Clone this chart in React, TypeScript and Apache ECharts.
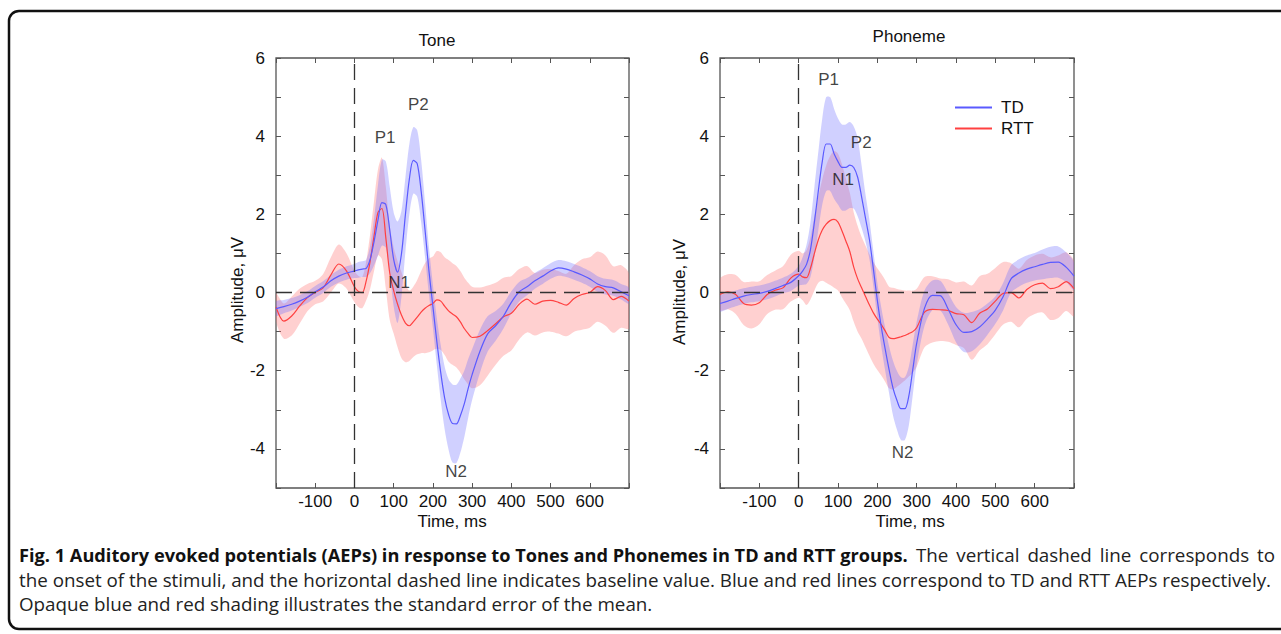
import React, { useEffect, useRef } from "react";
import * as echarts from "echarts";

// time grid (ms)
const T = [
  -200, -180, -160, -140, -120, -100, -80, -60, -40, -20, 0,
  10, 20, 30, 40, 50, 60, 70, 80, 90, 100,
  110, 120, 130, 140, 150, 160, 170, 180, 190, 200,
  210, 220, 230, 240, 250, 260, 270, 280, 290, 300,
  320, 340, 360, 380, 400, 420, 440, 460, 480, 500,
  520, 540, 560, 580, 600, 620, 640, 660, 680, 700,
];

// Tone — TD
const toneTdMean = [
  -0.41, -0.36, -0.3, -0.22, -0.12, 0.02, 0.14, 0.3, 0.42, 0.5, 0.55,
  0.58, 0.6, 0.62, 0.85, 1.3, 1.85, 2.3, 2.25, 1.6, 0.85,
  0.52, 1.0, 2.0, 2.9, 3.38, 3.3, 2.6, 1.6, 0.55, -0.35,
  -1.25, -2.05, -2.7, -3.12, -3.35, -3.36, -3.15, -2.85, -2.45, -2.1,
  -1.5, -1.05, -0.85, -0.6, -0.25, 0.02, 0.15, 0.3, 0.42, 0.55,
  0.63, 0.6, 0.53, 0.45, 0.35, 0.22, 0.15, 0.12, 0.02, -0.08,
];
const toneTdSem = [
  0.18, 0.17, 0.16, 0.15, 0.15, 0.15, 0.15, 0.15, 0.16, 0.17, 0.18,
  0.2, 0.2, 0.22, 0.35, 0.6, 0.9, 1.1, 1.1, 1.1, 1.2,
  1.3, 1.1, 0.95, 0.9, 0.85, 0.85, 0.8, 0.7, 0.6, 0.55,
  0.6, 0.7, 0.8, 0.9, 1.0, 1.0, 0.95, 0.85, 0.75, 0.65,
  0.55, 0.45, 0.38, 0.32, 0.28, 0.25, 0.22, 0.2, 0.2, 0.2,
  0.2, 0.2, 0.2, 0.2, 0.2, 0.2, 0.2, 0.2, 0.2, 0.2,
];
// Tone — RTT
const toneRttMean = [
  -0.37, -0.73, -0.6, -0.35, -0.13, 0.0, 0.12, 0.45, 0.73, 0.55, 0.15,
  0.03, 0.0, 0.3, 0.8, 1.45, 2.05, 2.15, 1.4, 0.5, 0.05,
  -0.3, -0.58, -0.78, -0.85, -0.75, -0.63, -0.5, -0.4, -0.33, -0.28,
  -0.19, -0.22, -0.35, -0.47, -0.55, -0.62, -0.75, -0.92, -1.05, -1.15,
  -1.12, -0.97, -0.8, -0.62, -0.53, -0.3, -0.17, -0.3, -0.22, -0.2,
  -0.25, -0.32, -0.15, -0.05, 0.0, 0.15, 0.05, -0.18, -0.1, -0.22,
];
const toneRttSem = [
  0.35, 0.45, 0.5, 0.45, 0.35, 0.3, 0.35, 0.45, 0.5, 0.45, 0.4,
  0.4, 0.4, 0.5, 0.7, 0.9, 1.1, 1.3, 1.3, 1.2, 1.1,
  1.1, 1.1, 1.0, 0.9, 0.9, 0.95, 1.05, 1.15, 1.2, 1.2,
  1.25, 1.25, 1.25, 1.3, 1.3, 1.3, 1.3, 1.3, 1.3, 1.3,
  1.25, 1.15, 1.05, 1.0, 0.95, 0.9, 0.85, 0.8, 0.8, 0.8,
  0.8, 0.8, 0.85, 0.9, 0.9, 0.9, 0.9, 0.85, 0.8, 0.7,
];
// Phoneme — TD
const phonTdMean = [
  -0.28, -0.22, -0.15, -0.09, -0.05, -0.02, 0.03, 0.1, 0.18, 0.26, 0.43,
  0.55, 0.72, 1.1, 1.8, 2.6, 3.35, 3.8, 3.8, 3.55, 3.35,
  3.2, 3.2, 3.26, 3.2, 2.95, 2.45, 1.9, 1.35, 0.6, -0.2,
  -0.88, -1.45, -1.98, -2.45, -2.76, -2.97, -2.97, -2.65, -1.98, -1.3,
  -0.4, -0.07, -0.08, -0.42, -0.82, -1.02, -1.0, -0.88, -0.68, -0.45,
  -0.1, 0.35, 0.5, 0.6, 0.66, 0.72, 0.77, 0.78, 0.65, 0.42,
];
const phonTdSem = [
  0.2, 0.2, 0.2, 0.2, 0.2, 0.2, 0.2, 0.2, 0.2, 0.22, 0.25,
  0.35, 0.5, 0.7, 0.9, 1.0, 1.1, 1.2, 1.2, 1.15, 1.1,
  1.1, 1.1, 1.1, 1.05, 1.0, 0.8, 0.6, 0.5, 0.45, 0.45,
  0.5, 0.55, 0.6, 0.7, 0.75, 0.8, 0.8, 0.75, 0.65, 0.55,
  0.45, 0.38, 0.38, 0.4, 0.45, 0.5, 0.5, 0.45, 0.4, 0.35,
  0.35, 0.35, 0.35, 0.35, 0.35, 0.38, 0.4, 0.4, 0.38, 0.35,
];
// Phoneme — RTT
const phonRttMean = [
  -0.05, 0.02, -0.05, -0.28, -0.32, -0.26, -0.05, 0.06, 0.12, 0.37, 0.47,
  0.4, 0.38, 0.62, 1.0, 1.35, 1.6, 1.75, 1.84, 1.87, 1.8,
  1.58, 1.32, 1.05, 0.65, 0.35, 0.12, -0.1, -0.32, -0.52, -0.68,
  -0.82, -0.98, -1.15, -1.18, -1.16, -1.13, -1.1, -1.05, -1.0, -0.9,
  -0.5, -0.43, -0.44, -0.46, -0.54, -0.57, -0.77, -0.53, -0.42, -0.22,
  -0.02, 0.0, -0.14, 0.08, 0.2, 0.24, 0.1, 0.15, 0.28, 0.1,
];
const phonRttSem = [
  0.4, 0.45, 0.5, 0.55, 0.6, 0.55, 0.5, 0.5, 0.55, 0.6, 0.6,
  0.6, 0.7, 0.8, 0.95, 1.1, 1.3, 1.5, 1.65, 1.75, 1.75,
  1.7, 1.6, 1.5, 1.4, 1.35, 1.3, 1.3, 1.3, 1.3, 1.3,
  1.3, 1.3, 1.3, 1.3, 1.25, 1.2, 1.15, 1.1, 1.05, 1.0,
  0.9, 0.85, 0.8, 0.8, 0.8, 0.85, 0.95, 0.95, 0.9, 0.85,
  0.8, 0.75, 0.75, 0.75, 0.75, 0.75, 0.8, 0.8, 0.75, 0.7,
];

// peak annotations [name, time ms, amplitude µV]
const toneLabels: [string, number, number][] = [
  ["P1", 78, 3.97],
  ["P2", 163, 4.8],
  ["N1", 114, 0.26],
  ["N2", 259, -4.58],
];
const phonLabels: [string, number, number][] = [
  ["P1", 76, 5.45],
  ["P2", 159, 3.84],
  ["N1", 113, 2.88],
  ["N2", 264, -4.08],
];

const xTicksHidden = [-200, 700];
const panelTitles = ["Tone", "Phoneme"];
const groups = ["TD", "RTT"];

const captionBold =
  "Fig. 1 Auditory evoked potentials (AEPs) in response to Tones and Phonemes in TD and RTT groups.";
const captionLine1Rest = "The vertical dashed line corresponds to";
const captionLine2 =
  "the onset of the stimuli, and the horizontal dashed line indicates baseline value. Blue and red lines correspond to TD and RTT AEPs respectively.";
const captionLine3 = "Opaque blue and red shading illustrates the standard error of the mean.";

const BLUE = "#5a5aff";
const RED = "#ff4040";
const BLUE_BAND = "rgba(110,110,255,0.32)";
const RED_BAND = "rgba(255,110,110,0.32)";
const FONT = "Liberation Sans, Arial, sans-serif";
const CAP_FAMILY = "'Open Sans', sans-serif";

function measure(text: string, font: string) {
  const c = document.createElement("canvas").getContext("2d");
  if (!c) return text.length * 8;
  c.font = font;
  return c.measureText(text).width;
}

function band(name: string, xi: number, yi: number, mean: number[], sem: number[], color: string) {
  const lo = mean.map((m, i) => m - sem[i]);
  const hi = mean.map((m, i) => m + sem[i]);
  return {
    type: "custom",
    name,
    xAxisIndex: xi,
    yAxisIndex: yi,
    silent: true,
    clip: true,
    z: 1,
    data: T.map((t, i) => [t, lo[i], hi[i]]),
    encode: { x: 0, y: [1, 2] },
    renderItem: (params: any, api: any) => {
      if (params.dataIndex !== 0) return null;
      const up = T.map((t, i) => api.coord([t, hi[i]]));
      const dn = T.map((t, i) => api.coord([t, lo[i]])).reverse();
      return {
        type: "polygon",
        shape: { points: up.concat(dn), smooth: 0.3 },
        style: { fill: color },
        silent: true,
      };
    },
  };
}

function line(name: string, xi: number, yi: number, mean: number[], color: string, extra: any = {}) {
  return {
    type: "line",
    name,
    xAxisIndex: xi,
    yAxisIndex: yi,
    data: T.map((t, i) => [t, mean[i]]),
    smooth: 0.3,
    symbol: "none",
    clip: true,
    z: 3,
    lineStyle: { color, width: 1.2 },
    itemStyle: { color },
    silent: true,
    ...extra,
  };
}

function labels(xi: number, yi: number, list: [string, number, number][]) {
  return {
    type: "scatter",
    xAxisIndex: xi,
    yAxisIndex: yi,
    symbolSize: 1,
    itemStyle: { color: "rgba(0,0,0,0)" },
    silent: true,
    z: 6,
    data: list.map((l) => ({ name: l[0], value: [l[1], l[2]] })),
    label: {
      show: true,
      position: "inside",
      formatter: "{b}",
      fontSize: 17,
      fontFamily: FONT,
      color: "#111",
    },
  };
}

const baseline = {
  silent: true,
  symbol: ["none", "none"],
  label: { show: false },
  lineStyle: { color: "#333", type: [16, 8], width: 1.3 },
  data: [{ xAxis: 0 }, { yAxis: 0 }],
};

function axesFor(gi: number) {
  const tick = { inside: true, length: 5, lineStyle: { color: "#555", width: 1 } };
  const noLine = { show: false, onZero: false };
  const xa = [
    {
      gridIndex: gi,
      type: "value",
      position: "bottom",
      min: -200,
      max: 700,
      interval: 100,
      axisLine: noLine,
      axisTick: tick,
      splitLine: { show: false },
      axisLabel: {
        color: "#111",
        fontSize: 17,
        fontFamily: FONT,
        margin: 5,
        formatter: (v: number) => (xTicksHidden.includes(v) ? "" : String(v)),
      },
    },
    {
      gridIndex: gi,
      type: "value",
      position: "top",
      min: -200,
      max: 700,
      interval: 100,
      axisLine: noLine,
      axisTick: tick,
      splitLine: { show: false },
      axisLabel: { show: false },
    },
  ];
  const ya = [
    {
      gridIndex: gi,
      type: "value",
      position: "left",
      min: -5,
      max: 6,
      interval: 1,
      axisLine: noLine,
      axisTick: tick,
      splitLine: { show: false },
      axisLabel: {
        color: "#111",
        fontSize: 17,
        fontFamily: FONT,
        margin: 11,
        formatter: (v: number) => (v % 2 === 0 ? String(v) : ""),
      },
    },
    {
      gridIndex: gi,
      type: "value",
      position: "right",
      min: -5,
      max: 6,
      interval: 1,
      axisLine: noLine,
      axisTick: tick,
      splitLine: { show: false },
      axisLabel: { show: false },
    },
  ];
  return { xa, ya };
}

export default function App() {
  const ref = useRef<HTMLDivElement>(null);
  useEffect(() => {
    if (!ref.current) return;
    const chart = echarts.init(ref.current, null, { renderer: "svg" });
    const a0 = axesFor(0);
    const a1 = axesFor(1);
    const gridStyle = { show: true, borderColor: "#555", borderWidth: 1.3, backgroundColor: "transparent" };
    const txt = (text: string, x: number, y: number, extra: any = {}) => ({
      type: "text",
      x,
      y,
      silent: true,
      style: { text, font: `17px ${FONT}`, fill: "#111", align: "center", verticalAlign: "middle", ...extra },
    });

    // caption sizing: fit the reference's line widths; line 1 is justified
    const capLeft = 19;
    const capRight = 1275;
    const boldEnd = 908;
    const boldSize = (16 * (boldEnd - capLeft)) / measure(captionBold, `bold 16px ${CAP_FAMILY}`);
    const regSize = (16 * (1272 - capLeft)) / measure(captionLine2, `16px ${CAP_FAMILY}`);
    const regFont = `${regSize.toFixed(2)}px ${CAP_FAMILY}`;
    const words = captionLine1Rest.split(" ");
    const widths = words.map((w) => measure(w, regFont));
    const gap = (capRight - boldEnd - widths.reduce((a, b) => a + b, 0)) / words.length;
    let cx = boldEnd + gap;
    const line1Words = words.map((w, i) => {
      const el = {
        type: "text",
        x: cx,
        y: 555,
        silent: true,
        style: { text: w, font: regFont, fill: "#222", verticalAlign: "middle" },
      };
      cx += widths[i] + gap;
      return el;
    });

    chart.setOption({
      animation: false,
      backgroundColor: "#fff",
      grid: [
        { left: 276, top: 58, width: 353, height: 430, ...gridStyle },
        { left: 720, top: 58, width: 354, height: 430, ...gridStyle },
      ],
      xAxis: [...a0.xa, ...a1.xa],
      yAxis: [...a0.ya, ...a1.ya],
      legend: {
        left: 955,
        top: 99,
        padding: 0,
        orient: "vertical",
        icon: "rect",
        itemWidth: 37,
        itemHeight: 2,
        itemGap: 4,
        data: groups,
        selectedMode: false,
        textStyle: { fontSize: 17, fontFamily: FONT, color: "#111", padding: [0, 0, 0, 4] },
      },
      series: [
        band("RTT band", 0, 0, toneRttMean, toneRttSem, RED_BAND),
        band("TD band", 0, 0, toneTdMean, toneTdSem, BLUE_BAND),
        line(groups[1], 0, 0, toneRttMean, RED),
        line(groups[0], 0, 0, toneTdMean, BLUE, { markLine: baseline }),
        labels(0, 0, toneLabels),
        band("RTT band", 2, 2, phonRttMean, phonRttSem, RED_BAND),
        band("TD band", 2, 2, phonTdMean, phonTdSem, BLUE_BAND),
        line(groups[1], 2, 2, phonRttMean, RED),
        line(groups[0], 2, 2, phonTdMean, BLUE, { markLine: baseline }),
        labels(2, 2, phonLabels),
      ],
      graphic: [
        {
          type: "rect",
          silent: true,
          shape: { x: 9, y: 11, width: 1300, height: 618, r: 10 },
          style: { fill: "none", stroke: "#111", lineWidth: 2.5 },
        },
        txt(panelTitles[0], 437, 40),
        txt(panelTitles[1], 909, 36),
        txt("Time, ms", 452, 521),
        txt("Time, ms", 910, 521),
        { ...txt("Amplitude, μV", 237, 290), rotation: Math.PI / 2 },
        { ...txt("Amplitude, μV", 679, 292), rotation: Math.PI / 2 },
        {
          type: "text",
          x: capLeft,
          y: 555,
          silent: true,
          style: {
            text: captionBold,
            font: `bold ${boldSize.toFixed(2)}px ${CAP_FAMILY}`,
            fill: "#111",
            verticalAlign: "middle",
          },
        },
        ...line1Words,
        {
          type: "text",
          x: capLeft,
          y: 580,
          silent: true,
          style: { text: captionLine2, font: regFont, fill: "#222", verticalAlign: "middle" },
        },
        {
          type: "text",
          x: capLeft,
          y: 604,
          silent: true,
          style: { text: captionLine3, font: regFont, fill: "#222", verticalAlign: "middle" },
        },
      ],
    });
    return () => chart.dispose();
  }, []);
  return (
    <div
      ref={ref}
      style={{ position: "fixed", left: 0, top: 0, width: 1281, height: 634, background: "#fff" }}
    />
  );
}
